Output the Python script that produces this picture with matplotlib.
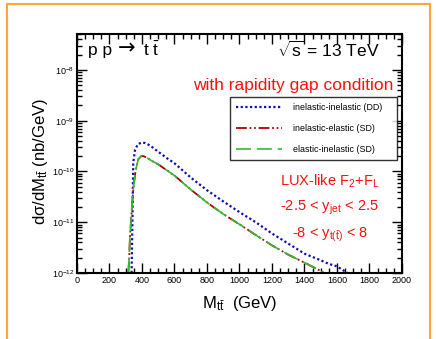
import matplotlib
matplotlib.use('Agg')
import matplotlib.pyplot as plt
import matplotlib.ticker as mticker
from matplotlib.patches import Rectangle

plt.rcParams['font.family'] = ['Liberation Sans', 'DejaVu Sans']
plt.rcParams['mathtext.fontset'] = 'custom'
plt.rcParams['mathtext.rm'] = 'Liberation Sans'
plt.rcParams['mathtext.it'] = 'Liberation Sans:italic'
plt.rcParams['mathtext.default'] = 'rm'

# ttbar invariant mass (GeV) and dsigma/dM (nb/GeV)
m_dd = [336, 341, 346, 357, 375, 400, 420, 450, 500, 550, 600, 700, 800, 900,
        1000, 1100, 1200, 1300, 1400, 1500, 1550, 1600, 1640, 1665]
xs_dd = [1.0e-12, 1.0e-11, 1.48e-10, 2.63e-10, 3.47e-10, 3.72e-10, 3.63e-10,
         3.24e-10, 2.45e-10, 1.86e-10, 1.45e-10, 7.6e-11, 4.27e-11, 2.57e-11,
         1.58e-11, 1.0e-11, 6.0e-12, 3.8e-12, 2.4e-12, 1.78e-12, 1.51e-12,
         1.35e-12, 1.12e-12, 1.0e-12]

m_sd = [316, 321, 326, 336, 346, 360, 377, 395, 410, 430, 460, 500, 600, 700,
        800, 900, 1000, 1100, 1200, 1300, 1400, 1500, 1520]
xs_sd = [1.0e-12, 2.0e-12, 5.2e-12, 1.58e-11, 4.4e-11, 1.0e-10, 1.74e-10,
         2.0e-10, 2.0e-10, 1.86e-10, 1.62e-10, 1.38e-10, 8.3e-11, 4.4e-11,
         2.45e-11, 1.45e-11, 9.1e-12, 5.6e-12, 3.5e-12, 2.3e-12, 1.6e-12,
         1.1e-12, 1.0e-12]

fig = plt.figure(figsize=(4.36, 3.39), dpi=100)
ax = fig.add_axes([0.1766, 0.1947, 0.7454, 0.7050])

ax.plot(m_dd, xs_dd, color='#1010b0', lw=1.6, linestyle=(0, (1, 1.1)),
        label='inelastic-inelastic (DD)')
ax.plot(m_sd, xs_sd, color='#b00000', lw=1.3,
        linestyle=(0, (6, 1.5, 1, 1.5, 1, 1.5)),
        label='inelastic-elastic (SD)')
ax.plot(m_sd, xs_sd, color='#33bb33', lw=1.2, linestyle=(0, (9, 3.5)),
        label='elastic-inelastic (SD)')

ax.set_yscale('log')
ax.set_xlim(0, 2000)
ax.set_ylim(1e-12, 5.1e-8)
ax.xaxis.set_major_locator(mticker.MultipleLocator(200))
ax.xaxis.set_minor_locator(mticker.MultipleLocator(50))
ax.yaxis.set_minor_formatter(mticker.NullFormatter())
ax.tick_params(which='both', direction='in', top=True, right=True,
               labelsize=6.5, width=1.0, pad=2)
ax.tick_params(which='major', length=7.5)
ax.tick_params(which='minor', length=3.8)
for s in ax.spines.values():
    s.set_linewidth(1.5)

ax.set_xlabel(r'M$_{\mathrm{t\bar{t}}}$  (GeV)', fontsize=12, labelpad=7)
fig.text(40 / 436, 1 - 98 / 339, r'd$\sigma$/dM$_{\mathrm{t\bar{t}}}$ (nb/GeV)',
         rotation=90, va='top', ha='center', fontsize=12)

# process label, split so the arrow comes from DejaVu Sans
ax.text(0.034, 0.933, 'p p', transform=ax.transAxes,
        fontsize=12.5, va='center', ha='left')
ax.text(0.126, 0.941, '→', transform=ax.transAxes, family='DejaVu Sans',
        fontsize=15, va='center', ha='left')
ax.text(0.203, 0.933, r't $\mathrm{\bar{t}}$', transform=ax.transAxes,
        fontsize=12.5, va='center', ha='left')
ax.text(0.932, 0.933, r'$\sqrt{\mathrm{s}}$ = 13 TeV', transform=ax.transAxes,
        fontsize=12.5, va='center', ha='right')
ax.text(0.975, 0.785, 'with rapidity gap condition', transform=ax.transAxes,
        fontsize=12.5, va='center', ha='right', color='#ff1010')

ax.text(0.778, 0.385, r'LUX-like F$_{2}$+F$_{\mathrm{L}}$', transform=ax.transAxes,
        fontsize=10.5, ha='center', va='center', color='#ff1010')
ax.text(0.778, 0.272, r'-2.5 < y$_{\mathrm{jet}}$ < 2.5', transform=ax.transAxes,
        fontsize=10.5, ha='center', va='center', color='#ff1010')
ax.text(0.778, 0.160, r'-8 < y$_{\mathrm{t(\bar{t})}}$ < 8', transform=ax.transAxes,
        fontsize=10.5, ha='center', va='center', color='#ff1010')

leg = ax.legend(loc='upper left', bbox_to_anchor=(0.471, 0.477, 0.514, 0.259),
                mode='expand', fontsize=6.4, frameon=True, fancybox=False,
                edgecolor='black', handlelength=5.2, handletextpad=1.2,
                labelspacing=1.36, borderpad=0.68, borderaxespad=0)
leg.get_frame().set_linewidth(1.0)

# orange frame around the figure
fig.patches.append(Rectangle((7 / 436, -0.1), (430 - 7) / 436, 1.1 - 4 / 339,
                             transform=fig.transFigure, fill=False,
                             edgecolor='#ffa53a', lw=1.5))

fig.savefig('out.png', dpi=100)
